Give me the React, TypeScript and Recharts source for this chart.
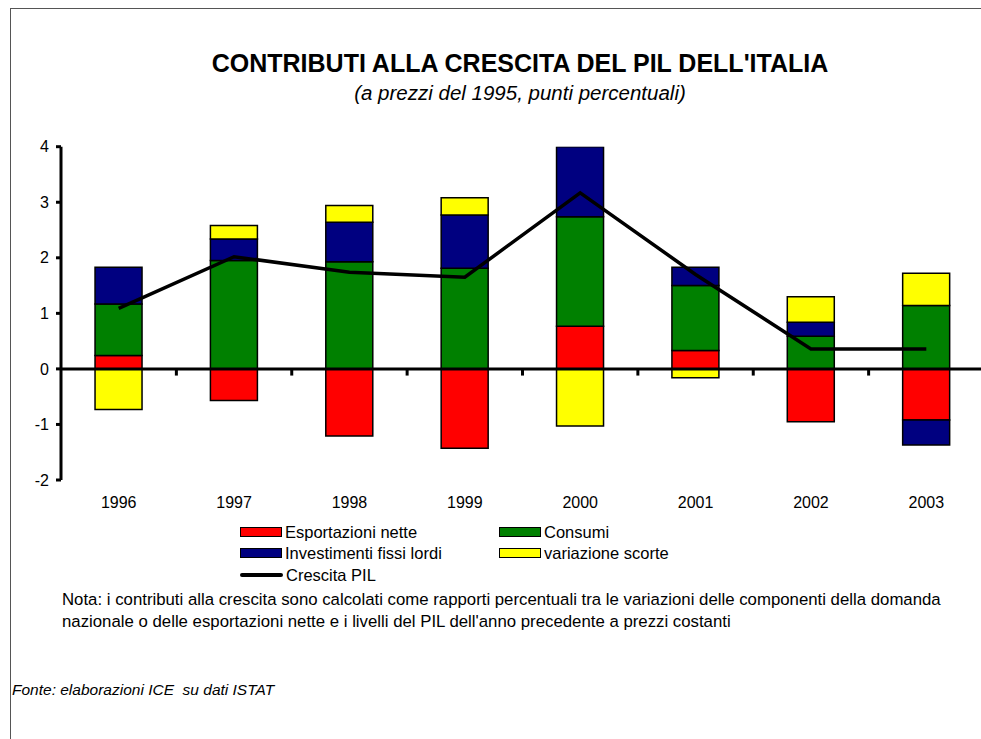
import React from 'react';
import { ComposedChart, Bar, Line, XAxis, YAxis, ReferenceLine } from 'recharts';

const years = ['1996', '1997', '1998', '1999', '2000', '2001', '2002', '2003'];
const esportazioniNette = [0.24, -0.57, -1.21, -1.43, 0.77, 0.33, -0.95, -0.92];
const consumi = [0.93, 1.95, 1.93, 1.81, 1.97, 1.17, 0.59, 1.14];
const investimentiFissiLordi = [0.66, 0.39, 0.71, 0.96, 1.3, 0.33, 0.25, -0.45];
const variazioneScorte = [-0.73, 0.24, 0.3, 0.31, -1.03, -0.16, 0.46, 0.58];
const crescitaPil = [1.09, 2.02, 1.74, 1.65, 3.17, 1.7, 0.36, 0.36];
const yTicks = [-2, -1, 0, 1, 2, 3, 4];

const barSeries = [
  { key: 'esp', name: 'Esportazioni nette', color: '#FF0000' },
  { key: 'con', name: 'Consumi', color: '#008000' },
  { key: 'inv', name: 'Investimenti fissi lordi', color: '#000080' },
  { key: 'sco', name: 'variazione scorte', color: '#FFFF00' },
];
const lineName = 'Crescita PIL';

const data = years.map((y, i) => ({
  year: y,
  esp: esportazioniNette[i],
  con: consumi[i],
  inv: investimentiFissiLordi[i],
  sco: variazioneScorte[i],
  pil: crescitaPil[i],
}));

const FONT = '"Liberation Sans", Arial, Helvetica, sans-serif';

function Swatch({ color }: { color: string }) {
  return (
    <div
      style={{
        width: 40,
        height: 8,
        background: color,
        border: '1.5px solid #000',
        display: 'inline-block',
      }}
    />
  );
}

export default function App() {
  const legendPos = [
    { left: 240, top: 522 },
    { left: 499, top: 522 },
    { left: 240, top: 543 },
    { left: 499, top: 543 },
  ];
  return (
    <div
      style={{
        position: 'absolute',
        left: 0,
        top: 0,
        width: 981,
        height: 739,
        overflow: 'hidden',
        background: '#fff',
        fontFamily: FONT,
        color: '#000',
      }}
    >
      <div
        style={{
          position: 'absolute',
          left: 10,
          top: 8,
          width: 1100,
          height: 900,
          borderLeft: '1.5px solid #555',
          borderTop: '1.5px solid #555',
        }}
      />
      <div
        style={{
          position: 'absolute',
          left: 10,
          width: 1020,
          top: 49,
          textAlign: 'center',
          fontWeight: 'bold',
          fontSize: 25,
          lineHeight: 'normal',
        }}
      >
        CONTRIBUTI ALLA CRESCITA DEL PIL DELL'ITALIA
      </div>
      <div
        style={{
          position: 'absolute',
          left: 10,
          width: 1020,
          top: 81,
          textAlign: 'center',
          fontStyle: 'italic',
          fontSize: 20.5,
          lineHeight: 'normal',
        }}
      >
        (a prezzi del 1995, punti percentuali)
      </div>

      <div style={{ position: 'absolute', left: 0, top: 0 }}>
        <ComposedChart
          width={984}
          height={520}
          data={data}
          stackOffset="sign"
          barCategoryGap="29.5%"
          margin={{ top: 146.7, right: 0, bottom: 0, left: 0 }}
        >
          <XAxis
            dataKey="year"
            axisLine={false}
            tickLine={false}
            tickSize={0}
            tickMargin={17}
            height={40}
            tick={{ fontSize: 16, fill: '#000', fontFamily: FONT }}
          />
          <YAxis
            domain={[-2, 4]}
            ticks={yTicks}
            allowDataOverflow
            width={61}
            axisLine={{ stroke: '#000', strokeWidth: 3 }}
            tickLine={{ stroke: '#000', strokeWidth: 3 }}
            tickSize={5}
            tickMargin={7}
            tick={{ fontSize: 16, fill: '#000', fontFamily: FONT }}
          />
          {barSeries.map((s) => (
            <Bar
              key={s.key}
              dataKey={s.key}
              name={s.name}
              stackId="a"
              fill={s.color}
              stroke="#000"
              strokeWidth={1.5}
              isAnimationActive={false}
            />
          ))}
          <ReferenceLine y={0} stroke="#000" strokeWidth={3} />
          {years.slice(0, -1).map((yr) => (
            <ReferenceLine
              key={yr}
              position="end"
              segment={[
                { x: yr, y: 0 },
                { x: yr, y: -0.12 },
              ]}
              stroke="#000"
              strokeWidth={3}
            />
          ))}
          <Line
            dataKey="pil"
            name={lineName}
            type="linear"
            stroke="#000"
            strokeWidth={3.5}
            dot={false}
            isAnimationActive={false}
          />
        </ComposedChart>
      </div>

      {barSeries.map((s, i) => (
        <div
          key={s.key}
          style={{
            position: 'absolute',
            left: legendPos[i].left,
            top: legendPos[i].top,
            display: 'flex',
            alignItems: 'center',
            fontSize: 16.5,
            lineHeight: '20px',
          }}
        >
          <Swatch color={s.color} />
          <span style={{ marginLeft: 3 }}>{s.name}</span>
        </div>
      ))}
      <div
        style={{
          position: 'absolute',
          left: 240,
          top: 565,
          display: 'flex',
          alignItems: 'center',
          fontSize: 16.5,
          lineHeight: '20px',
        }}
      >
        <div style={{ width: 43, height: 3.5, background: '#000', borderRadius: 2 }} />
        <span style={{ marginLeft: 3 }}>{lineName}</span>
      </div>

      <div
        style={{
          position: 'absolute',
          left: 62,
          top: 589,
          fontSize: 16.8,
          lineHeight: '22px',
          width: 915,
          whiteSpace: 'nowrap',
        }}
      >
        Nota: i contributi alla crescita sono calcolati come rapporti percentuali tra le variazioni delle componenti della domanda
        <br />
        nazionale o delle esportazioni nette e i livelli del PIL dell'anno precedente a prezzi costanti
      </div>
      <div
        style={{
          position: 'absolute',
          left: 12,
          top: 681,
          fontSize: 15.5,
          fontStyle: 'italic',
        }}
      >
        Fonte: elaborazioni ICE&nbsp; su dati ISTAT
      </div>
    </div>
  );
}
